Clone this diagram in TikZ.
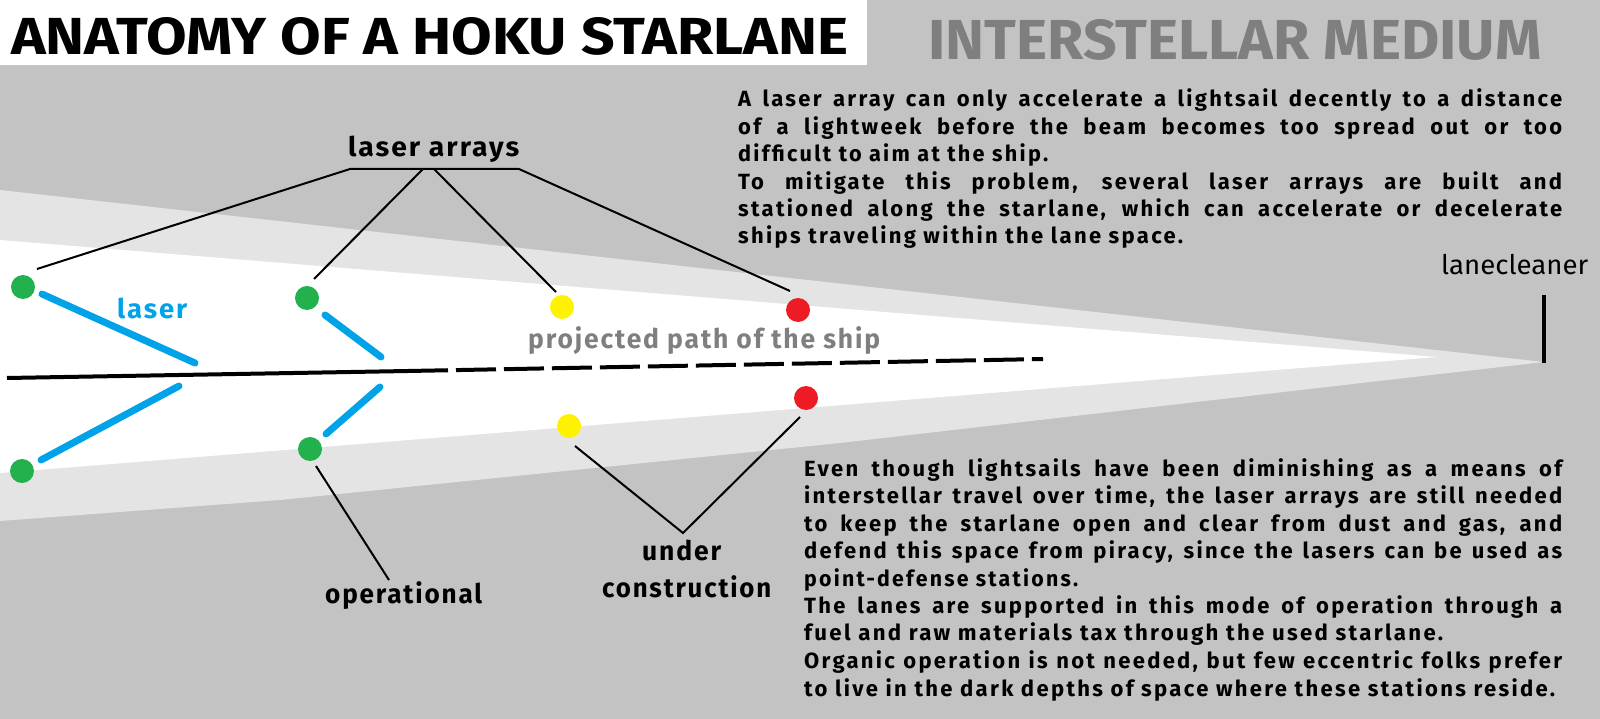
\documentclass[tikz,border=0pt]{standalone}
\usepackage{fontspec}
\usepackage{graphicx}
\setmainfont{Fira Sans}
\newfontfamily\parafont{Fira Sans}[LetterSpace=10.5]
\newfontfamily\lblfam{Fira Sans}[LetterSpace=7]
\definecolor{bggray}{HTML}{C3C3C3}
\definecolor{bandgray}{HTML}{E4E4E4}
\definecolor{txtgray}{HTML}{7F7F7F}
\definecolor{dotgreen}{HTML}{22B14C}
\definecolor{dotyellow}{HTML}{FFF200}
\definecolor{dotred}{HTML}{ED1C24}
\definecolor{laserblue}{HTML}{00A2E8}
\newcommand\fitw[2]{\resizebox{#1}{\height}{#2}}
\newcommand\lblfont{\lblfam\fontsize{27}{30}\selectfont\bfseries}
\newcommand\parfont{\parafont\fontsize{22}{27.4}\selectfont\bfseries}
\begin{document}
\begin{tikzpicture}[x=1pt,y=-1pt,
  dot/.style={circle, minimum size=24pt, inner sep=0pt, draw=none},
  laserbeam/.style={draw=laserblue, line width=7pt, line cap=round},
  leader/.style={draw=black, line width=2pt},
  pathline/.style={draw=black, line width=4pt},
  lbl/.style={font=\lblfont, inner sep=0pt, anchor=base west},
  para/.style={font=\parfont, inner sep=0pt, anchor=base west}]
\useasboundingbox (0,0) rectangle (1600,719);
% background
\fill[bggray] (0,0) rectangle (1600,719);
\fill[white] (0,0) rectangle (867,65);
\fill[bandgray] (0,190) -- (1544,362) -- (840,443) -- (280,500) -- (0,521) -- cycle;
\fill[white] (0,240) -- (1437,357) -- (0,473) -- cycle;
% titles
\node[inner sep=0pt, anchor=south west] (title) at (11,56) {\resizebox{837pt}{37pt}{\bfseries ANATOMY OF A HOKU STARLANE}};
\node[inner sep=0pt, anchor=south west, text=txtgray] (medium) at (928,61) {\resizebox{613pt}{40pt}{\bfseries INTERSTELLAR MEDIUM}};
% ship path
\coordinate (pathstart) at (7,378);
\coordinate (pathmid) at (408,371);
\coordinate (pathend) at (1043,359);
\draw[pathline] (pathstart) -- (pathmid);
\draw[pathline, dash pattern=on 40pt off 8pt] (pathmid) -- (pathend);
\node[lbl, text=txtgray] (pathlbl) at (528,348) {\fitw{352pt}{projected path of the ship}};
% lasers
\coordinate (l1a) at (42,294); \coordinate (l1b) at (195,363);
\coordinate (l2a) at (41,460); \coordinate (l2b) at (179,386);
\coordinate (l3a) at (325,315); \coordinate (l3b) at (381,357);
\coordinate (l4a) at (326,434); \coordinate (l4b) at (380,387);
\draw[laserbeam] (l1a) -- (l1b);
\draw[laserbeam] (l2a) -- (l2b);
\draw[laserbeam] (l3a) -- (l3b);
\draw[laserbeam] (l4a) -- (l4b);
\node[lbl, text=laserblue] (laserlbl) at (117,318) {\fitw{70pt}{laser}};
% stations
\node[dot, fill=dotgreen] (g1) at (23,287) {};
\node[dot, fill=dotgreen] (g2) at (22,471) {};
\node[dot, fill=dotgreen] (g3) at (307,298) {};
\node[dot, fill=dotgreen] (g4) at (310,449) {};
\node[dot, fill=dotyellow] (y1) at (562,307) {};
\node[dot, fill=dotyellow] (y2) at (569,426) {};
\node[dot, fill=dotred] (r1) at (798,310) {};
\node[dot, fill=dotred] (r2) at (806,398) {};
% laser arrays label
\node[lbl] (arrays) at (348,157) {\fitw{171pt}{laser arrays}};
\coordinate (barL) at (350,169);
\coordinate (barA) at (423,169);
\coordinate (barB) at (434,169);
\coordinate (barR) at (519,169);
\coordinate (g1lead) at (37,269);
\coordinate (g3lead) at (314,279);
\coordinate (y1lead) at (556,292);
\coordinate (r1lead) at (790,291);
\draw[leader] (g1lead) -- (barL) -- (barR) -- (r1lead);
\draw[leader] (barA) -- (g3lead);
\draw[leader] (barB) -- (y1lead);
% operational
\node[lbl] (oplbl) at (325,603) {\fitw{157pt}{operational}};
\coordinate (g4lead) at (316,466);
\coordinate (opend) at (389,580);
\draw[leader] (g4lead) -- (opend);
% under construction
\node[lbl] (under) at (642,560) {\fitw{79pt}{under}};
\node[lbl] (constr) at (602,597) {\fitw{169pt}{construction}};
\coordinate (y2lead) at (575,446);
\coordinate (ucjoin) at (683,533);
\coordinate (r2lead) at (800,417);
\draw[leader] (y2lead) -- (ucjoin) -- (r2lead);
% lanecleaner
\node[inner sep=0pt, anchor=base west, font=\fontsize{27}{30}\selectfont] (lclbl) at (1441,274) {\fitw{147pt}{lanecleaner}};
\coordinate (lctop) at (1544,295);
\coordinate (lctip) at (1544,363);
\draw[line width=4pt] (lctop) -- (lctip);
% top paragraph
\node[para] (ta) at (738,107) {\makebox[824pt][s]{A laser array can only accelerate a lightsail decently to a distance}};
\node[para] (tb) at (738,135) {\makebox[824pt][s]{of a lightweek before the beam becomes too spread out or too}};
\node[para] (tc) at (738,162) {\fitw{310pt}{difficult to aim at the ship.}};
\node[para] (td) at (738,190) {\makebox[824pt][s]{To mitigate this problem, several laser arrays are built and}};
\node[para] (te) at (738,217) {\makebox[824pt][s]{stationed along the starlane, which can accelerate or decelerate}};
\node[para] (tf) at (738,244) {\fitw{445pt}{ships traveling within the lane space.}};
% bottom paragraph
\node[para] (ba) at (804,476) {\makebox[758pt][s]{Even though lightsails have been diminishing as a means of}};
\node[para] (bb) at (804,503) {\makebox[758pt][s]{interstellar travel over time, the laser arrays are still needed}};
\node[para] (bc) at (804,531) {\makebox[758pt][s]{to keep the starlane open and clear from dust and gas, and}};
\node[para] (bd) at (804,558) {\makebox[758pt][s]{defend this space from piracy, since the lasers can be used as}};
\node[para] (be) at (804,586) {\fitw{274pt}{point-defense stations.}};
\node[para] (bf) at (804,613) {\makebox[758pt][s]{The lanes are supported in this mode of operation through a}};
\node[para] (bg) at (804,640) {\fitw{639pt}{fuel and raw materials tax through the used starlane.}};
\node[para] (bh) at (804,668) {\makebox[758pt][s]{Organic operation is not needed, but few eccentric folks prefer}};
\node[para] (bi) at (804,696) {\fitw{751pt}{to live in the dark depths of space where these stations reside.}};
\end{tikzpicture}
\end{document}
